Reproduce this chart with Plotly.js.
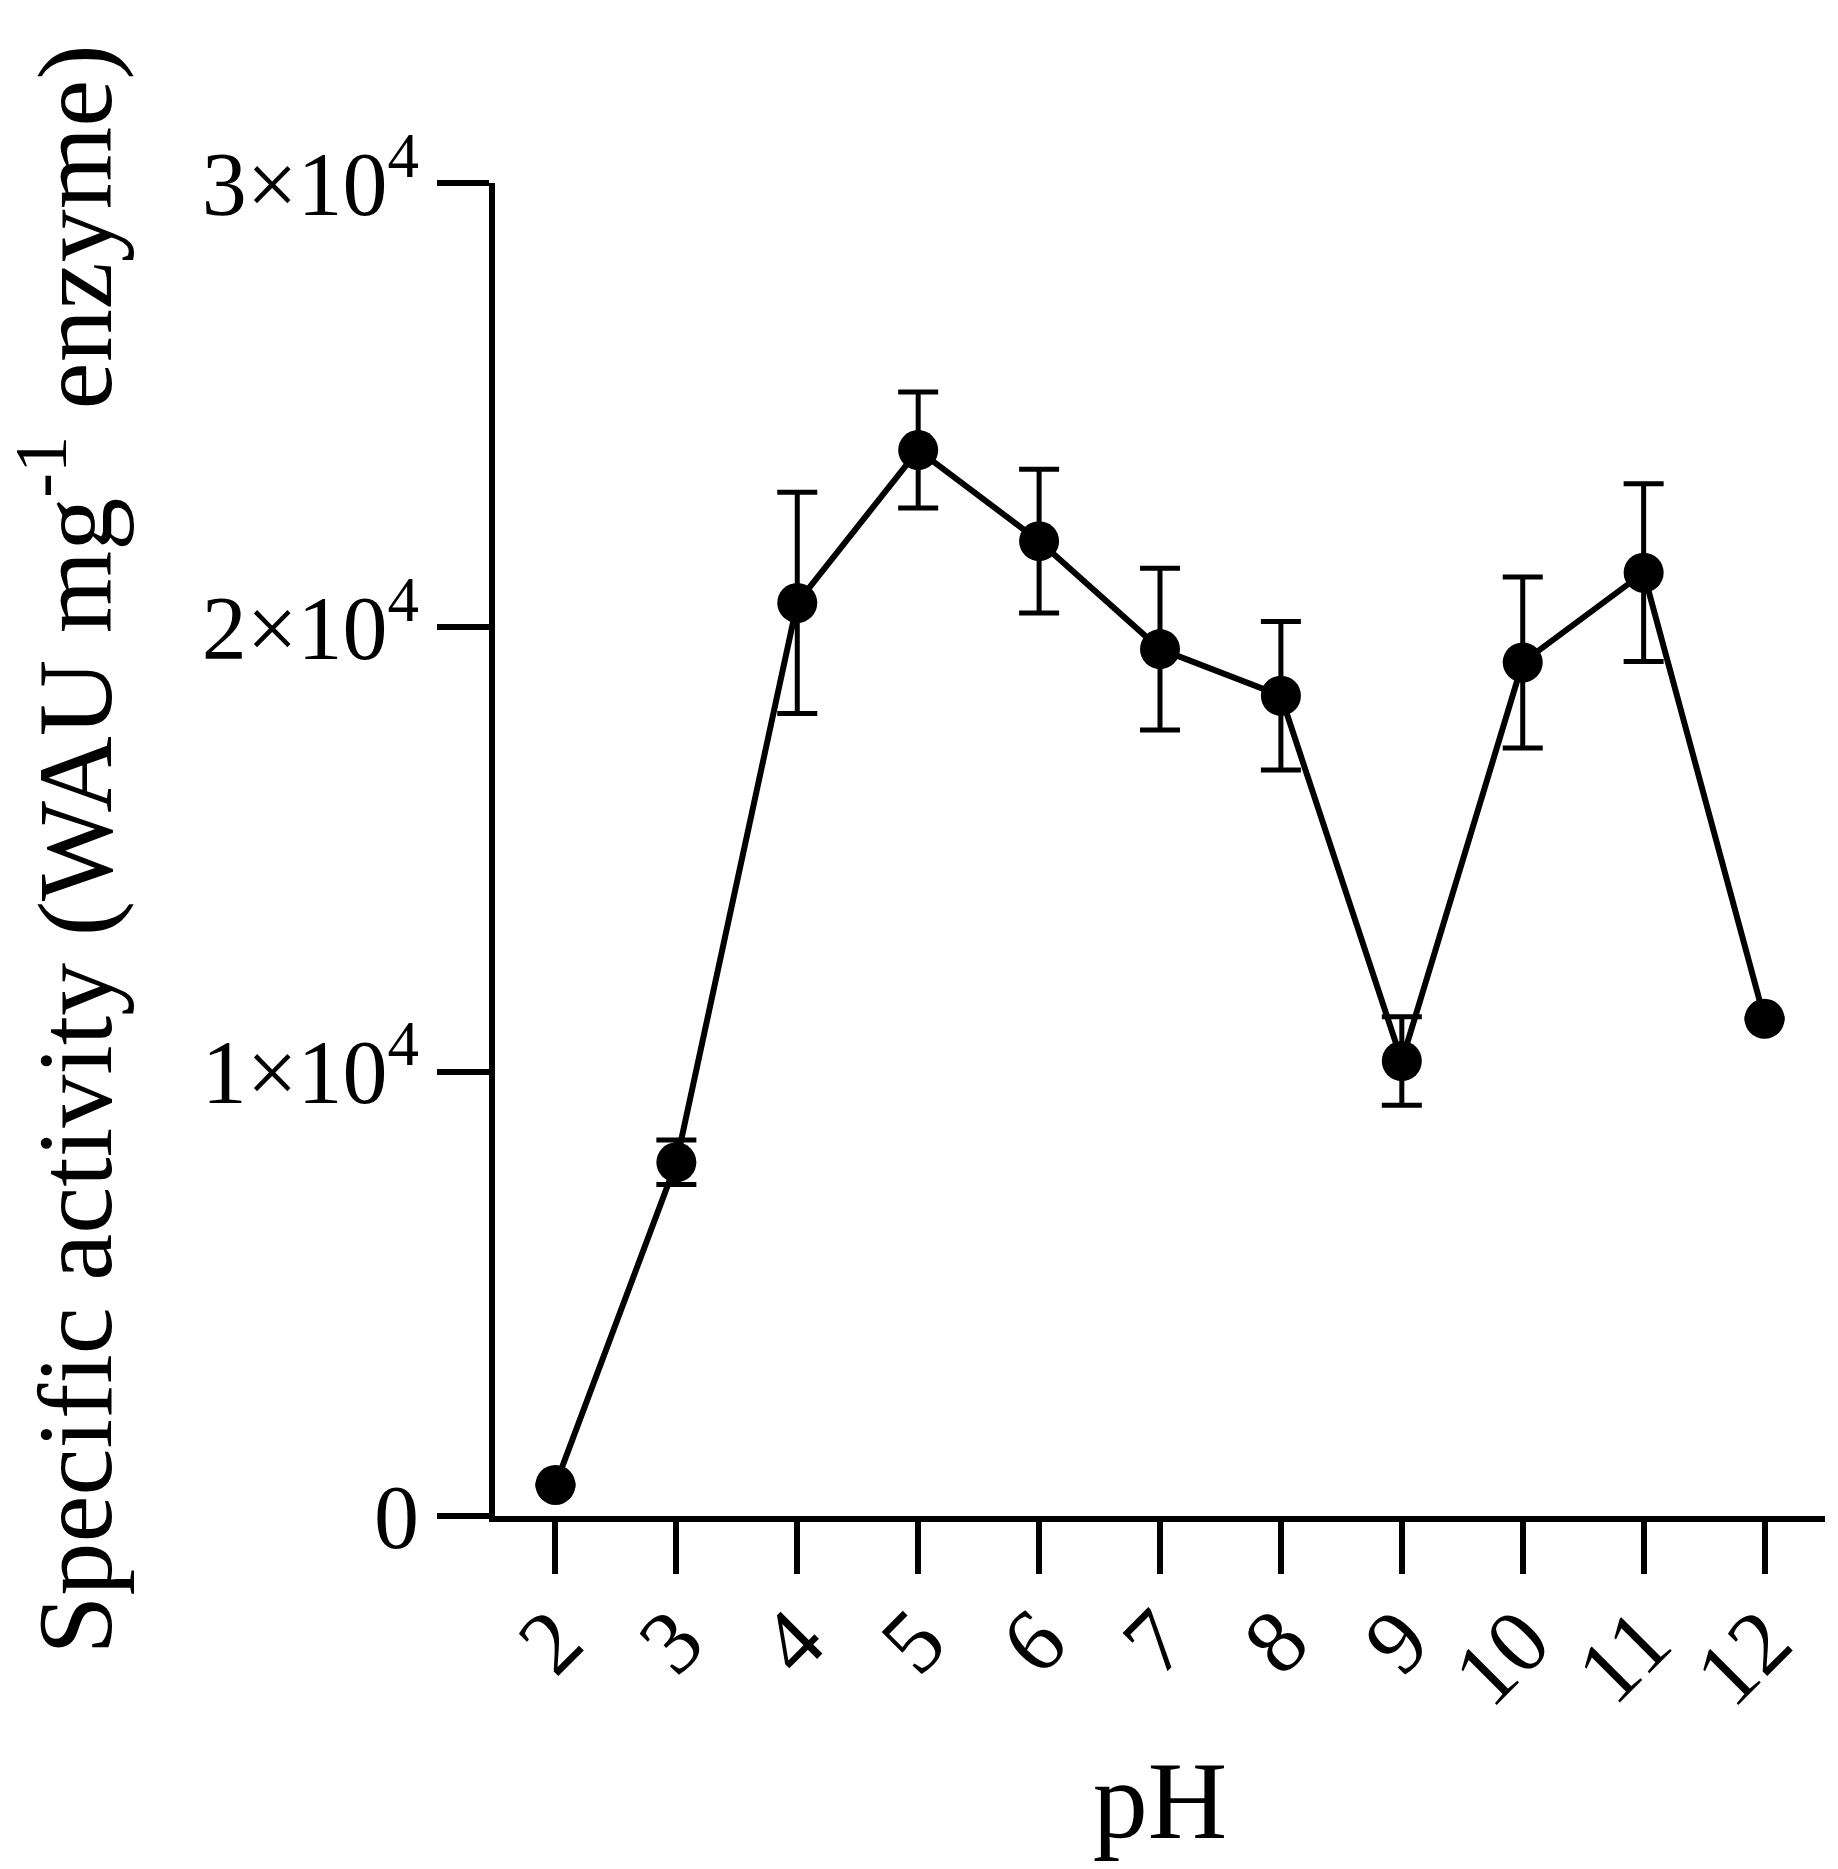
<!DOCTYPE html>
<html>
<head>
<meta charset="utf-8">
<script src="https://cdn.plot.ly/plotly-3.0.1.min.js"></script>
<style>html,body{margin:0;padding:0;background:#fff;}#chart{width:1838px;height:1869px;}</style>
</head>
<body>
<div id="chart"></div>
<script>
// Data
const pH = [2, 3, 4, 5, 6, 7, 8, 9, 10, 11, 12];
const activity = [700, 7960, 20550, 23990, 21940, 19510, 18460, 10240, 19210, 21230, 11190];
const activityErr = [null, 500, 2490, 1305, 1620, 1820, 1670, 995, 1925, 2000, null];
const yTickVals = [0, 10000, 20000, 30000];
const yTickText = ["0", "1×10<sup>4</sup>", "2×10<sup>4</sup>", "3×10<sup>4</sup>"];
const xTickVals = pH;
const xTickText = pH.map(String);

const FONT = "'Liberation Serif', 'Times New Roman', serif";

const trace = {
  x: pH,
  y: activity,
  type: "scatter",
  mode: "lines+markers",
  line: {color: "#000", width: 6},
  marker: {color: "#000", size: 40},
  error_y: {type: "data", array: activityErr, visible: true, color: "#000", thickness: 5, width: 20},
  cliponaxis: false,
  hoverinfo: "skip"
};

const layout = {
  width: 1838,
  height: 1869,
  margin: {l: 495, r: 13, t: 183, b: 353},
  paper_bgcolor: "#fff",
  plot_bgcolor: "#fff",
  showlegend: false,
  font: {family: FONT, color: "#000", size: 90},
  xaxis: {
    range: [1.5, 12.5],
    tickmode: "array",
    tickvals: xTickVals,
    ticktext: xTickText,
    tickangle: -45,
    ticks: "outside",
    ticklen: 52,
    tickwidth: 6,
    tickcolor: "#000",
    ticklabelstandoff: -22,
    showline: true,
    linewidth: 6,
    linecolor: "#000",
    showgrid: false,
    zeroline: false,
    tickfont: {family: FONT, size: 90, color: "#000"},
    title: {text: "pH", font: {family: FONT, size: 110, color: "#000"}, standoff: 40},
    automargin: false
  },
  yaxis: {
    range: [0, 30000],
    tickmode: "array",
    tickvals: yTickVals,
    ticktext: yTickText,
    ticks: "outside",
    ticklen: 52,
    tickwidth: 6,
    tickcolor: "#000",
    showline: true,
    linewidth: 6,
    linecolor: "#000",
    showgrid: false,
    zeroline: false,
    tickfont: {family: FONT, size: 90, color: "#000"},
    title: {text: "Specific activity (WAU mg<sup>-1</sup> enzyme)", font: {family: FONT, size: 106, color: "#000"}, standoff: 70},
    automargin: false
  }
};

Plotly.newPlot("chart", [trace], layout, {staticPlot: true, displayModeBar: false});
</script>
</body>
</html>
